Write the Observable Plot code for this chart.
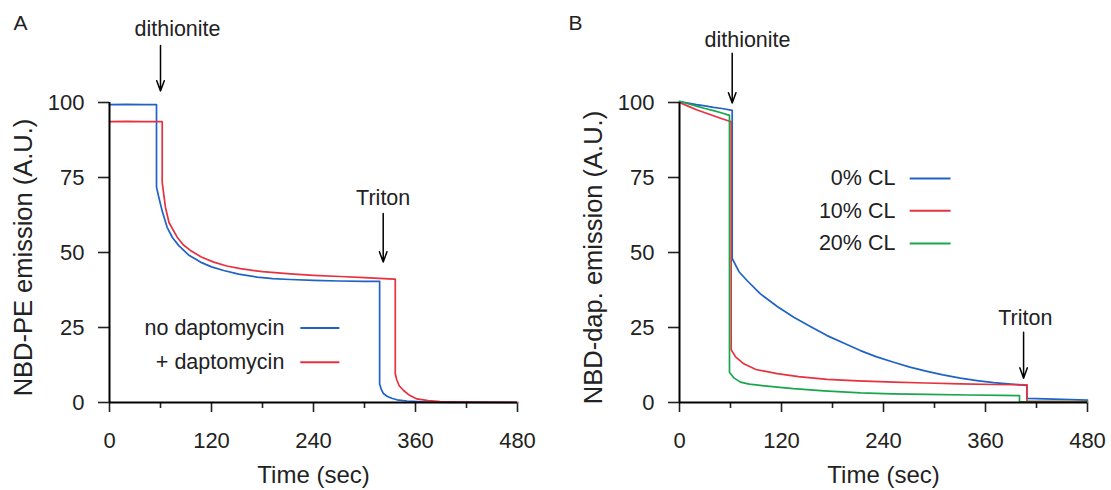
<!DOCTYPE html>
<html>
<head>
<meta charset="utf-8">
<script src="https://cdn.jsdelivr.net/npm/d3@7"></script>
<script src="https://cdn.jsdelivr.net/npm/@observablehq/plot@0.6"></script>
<style>
  body { margin: 0; background: white; }
  #wrap { display: flex; width: 1111px; height: 490px; }
</style>
</head>
<body>
<div id="wrap"></div>
<script>
// ---------- Data ----------
const xTicks = [0, 120, 240, 360, 480];
const xMinorTicks = [60, 180, 300, 420];
const yTicks = [0, 25, 50, 75, 100];

// Panel A
const timeNoDap = [0, 20, 40, 55.3, 55.3, 58, 62, 67.8, 74, 81.5, 93, 107, 120, 134.4, 152, 173.6, 192, 212.8, 240, 270, 300, 317.8, 317.8, 320, 322.5, 327, 332, 338.2, 350, 369, 400, 480];
const valNoDap  = [99.3, 99.4, 99.3, 99.3, 71.8, 68.4, 63.8, 58.4, 55, 52.3, 49.2, 46.8, 45.2, 44, 42.8, 41.8, 41.3, 41, 40.7, 40.5, 40.4, 40.4, 6.2, 4.2, 2.9, 2, 1.4, 0.9, 0.5, 0.2, 0.05, 0];
const timeDap = [0, 20, 40, 62, 62, 65.8, 70, 79.6, 87, 95.2, 108, 122.6, 138, 154, 180, 212.8, 240, 271.6, 300, 334.2, 336.2, 336.2, 338, 341, 346, 353, 361.7, 375, 389, 420, 480];
const valDap  = [93.6, 93.7, 93.6, 93.6, 73.4, 65.1, 60, 55.1, 52.5, 50.7, 48.5, 46.8, 45.5, 44.6, 43.6, 42.9, 42.4, 42, 41.6, 41.1, 41.1, 9.6, 7.5, 5.5, 4, 2.4, 1.2, 0.6, 0.3, 0.1, 0];

// Panel B
const timeCL0 = [0, 10, 20, 30, 40, 50, 62, 62, 70, 80, 95.2, 115, 134.4, 155, 173.6, 195, 212.8, 232, 252, 271, 291.2, 310, 330.4, 350, 369.5, 390, 408.8, 408.8, 420, 440, 460, 480];
const valCL0  = [100.3, 99.8, 99.3, 98.9, 98.4, 98, 97.4, 48, 43.6, 40.5, 36.2, 32, 28.4, 25.2, 22.3, 19.6, 17.3, 15.2, 13.4, 11.8, 10.4, 9.2, 8.1, 7.3, 6.6, 6.1, 5.7, 1.4, 1.3, 1.1, 1.0, 0.8];
const timeCL10 = [0, 10, 20, 30, 40, 50, 60.8, 60.8, 66, 75.6, 90, 114.9, 140, 173.6, 210, 252, 290, 330.4, 370, 407, 408.8, 408.8, 440, 480];
const valCL10  = [100, 98.8, 97.6, 96.6, 95.6, 94.6, 93.6, 17.6, 15.2, 12.9, 11, 9.6, 8.6, 7.7, 7.2, 6.8, 6.5, 6.2, 6.0, 5.9, 5.9, 0.5, 0.4, 0.4];
const timeCL20 = [0, 10, 20, 30, 40, 50, 58.8, 58.8, 64, 71.7, 82, 95, 115, 134, 170, 213, 250, 291, 340, 380, 400, 400, 440, 480];
const valCL20  = [100.4, 99.6, 98.8, 98, 97.3, 96.5, 95.7, 10.1, 8.2, 6.8, 6.1, 5.7, 5.1, 4.6, 3.9, 3.2, 2.9, 2.7, 2.5, 2.4, 2.3, 0.2, 0.2, 0.2];

const seriesA = ["no daptomycin", "+ daptomycin"];
const seriesB = ["0% CL", "10% CL", "20% CL"];
const colorsA = ["#1f63c6", "#e8313f"];
const colorsB = ["#1f63c6", "#e8313f", "#1aa64d"];

// ---------- Build tables ----------
const toRows = (ts, vs, s) => ts.map((t, i) => ({t, v: vs[i], s}));
const dataA = [
  ...toRows(timeNoDap, valNoDap, seriesA[0]),
  ...toRows(timeDap, valDap, seriesA[1])
];
const dataB = [
  ...toRows(timeCL0, valCL0, seriesB[0]),
  ...toRows(timeCL10, valCL10, seriesB[1]),
  ...toRows(timeCL20, valCL20, seriesB[2])
];

const FONT = "'Liberation Sans', Arial, Helvetica, sans-serif";
const INK = "#222";

function panel({data, series, colors, letter, ylabel, marginLeft, marginRight, width,
                dith, triton, legend}) {
  const legendRows = series.map((s, i) => ({s, y: legend.ys[i]}));
  return Plot.plot({
    width, height: 490,
    marginLeft, marginRight, marginTop: 102, marginBottom: 88,
    style: {fontFamily: FONT, color: INK, background: "white", overflow: "visible"},
    x: {domain: [0, 480]},
    y: {domain: [0, 100]},
    color: {domain: series, range: colors},
    marks: [
      Plot.axisX({ticks: xTicks, tickSize: 10, tickPadding: 20, fontSize: 22, strokeWidth: 1.6, label: null}),
      Plot.axisX({ticks: xMinorTicks, tickSize: 6, tickFormat: () => "", strokeWidth: 1.6, label: null}),
      Plot.axisY({ticks: yTicks, tickSize: 11, tickPadding: 14, fontSize: 22, strokeWidth: 1.6, label: null}),
      Plot.line(data, {x: "t", y: "v", z: "s", stroke: "s", strokeWidth: 1.7}),
      Plot.ruleY([0], {stroke: "black", strokeWidth: 2}),
      Plot.ruleX([0], {stroke: "black", strokeWidth: 2}),
      // annotations
      Plot.text([dith], {x: "tx", y: "ty", text: d => "dithionite", fontSize: 21.5, fill: INK}),
      Plot.arrow([dith], {x1: "ax", x2: "ax", y1: "ay1", y2: "ay2", stroke: "black", strokeWidth: 1.5, headLength: 11, headAngle: 40}),
      Plot.text([triton], {x: "tx", y: "ty", text: d => "Triton", fontSize: 21.5, fill: INK}),
      Plot.arrow([triton], {x1: "ax", x2: "ax", y1: "ay1", y2: "ay2", stroke: "black", strokeWidth: 1.5, headLength: 11, headAngle: 40}),
      // legend
      Plot.text(legendRows, {x: legend.tx, y: "y", text: "s", textAnchor: "end", fontSize: 21.5, fill: INK}),
      Plot.link(legendRows, {x1: legend.lx1, x2: legend.lx2, y1: "y", y2: "y", stroke: "s", strokeWidth: 2}),
      // panel letter and titles
      Plot.text([letter], {frameAnchor: "top-left", dx: -(marginLeft - 13), dy: -87, textAnchor: "start", fontSize: 21, fill: INK}),
      Plot.text([ylabel], {frameAnchor: "left", dx: -86, dy: 5, rotate: -90, textAnchor: "middle", lineAnchor: "middle", fontSize: 25.5, fill: INK}),
      Plot.text(["Time (sec)"], {frameAnchor: "bottom", dy: 80, fontSize: 24, fill: INK})
    ]
  });
}

const wrap = document.getElementById("wrap");
wrap.append(panel({
  data: dataA, series: seriesA, colors: colorsA, letter: "A",
  ylabel: "NBD-PE emission (A.U.)",
  width: 555, marginLeft: 109, marginRight: 38,
  dith: {tx: 80, ty: 124.4, ax: 60, ay1: 119, ay2: 103.8},
  triton: {tx: 322, ty: 68.1, ax: 322, ay1: 63, ay2: 46.8},
  legend: {tx: 205.7, lx1: 224.5, lx2: 270.4, ys: [24.8, 13.4]}
}));
wrap.append(panel({
  data: dataB, series: seriesB, colors: colorsB, letter: "B",
  ylabel: "NBD-dap. emission (A.U.)",
  width: 556, marginLeft: 124, marginRight: 24,
  dith: {tx: 80, ty: 120.8, ax: 62, ay1: 116.4, ay2: 99.8},
  triton: {tx: 406.8, ty: 28.1, ax: 404.8, ay1: 23.4, ay2: 8.1},
  legend: {tx: 254, lx1: 270.8, lx2: 318.9, ys: [74.7, 63.9, 53]}
}));
</script>
</body>
</html>
